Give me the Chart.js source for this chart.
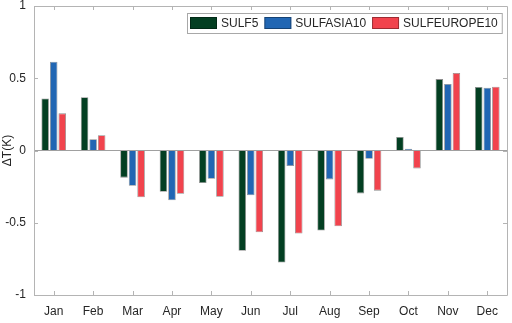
<!DOCTYPE html>
<html><head><meta charset="utf-8">
<script src="https://cdn.jsdelivr.net/npm/chart.js@4/dist/chart.umd.min.js"></script>
<style>html,body{margin:0;padding:0;background:#fff}#wrap{width:512px;height:323px}</style>
</head><body><div id="wrap"><canvas id="c" width="512" height="323"></canvas></div>
<script>
const months = ['Jan','Feb','Mar','Apr','May','Jun','Jul','Aug','Sep','Oct','Nov','Dec'];
const sulf5 = [0.36, 0.368, -0.188, -0.285, -0.225, -0.694, -0.775, -0.554, -0.297, 0.094, 0.494, 0.439];
const sulfAsia10 = [0.614, 0.078, -0.244, -0.345, -0.195, -0.31, -0.108, -0.2, -0.057, 0.012, 0.46, 0.434];
const sulfEurope10 = [0.257, 0.106, -0.324, -0.299, -0.32, -0.566, -0.575, -0.524, -0.278, -0.124, 0.536, 0.441];
const yTicks = [-1, -0.5, 0, 0.5, 1];

const FONT = '"Liberation Sans", Arial, Helvetica, sans-serif';
const TXT = '#262626';
const AXC = '#b4b4b4';

const boxTicks = {
  id: 'boxTicks',
  afterDatasetsDraw(chart) {
    const {ctx, chartArea: a, scales: {x, y}} = chart;
    ctx.save();
    ctx.strokeStyle = AXC;
    ctx.lineWidth = 1;
    ctx.beginPath();
    ctx.rect(Math.round(a.left) + 0.5, Math.round(a.top) + 0.5, Math.round(a.right - a.left), Math.round(a.bottom - a.top));
    ctx.stroke();
    const L = 4;
    ctx.beginPath();
    y.ticks.forEach((t, i) => {
      const py = Math.round(y.getPixelForTick(i)) + 0.5;
      ctx.moveTo(a.left, py); ctx.lineTo(a.left + L, py);
      ctx.moveTo(a.right, py); ctx.lineTo(a.right - L, py);
    });
    x.ticks.forEach((t, i) => {
      const px = Math.round(x.getPixelForTick(i)) + 0.5;
      ctx.moveTo(px, a.top); ctx.lineTo(px, a.top + L);
      ctx.moveTo(px, a.bottom); ctx.lineTo(px, a.bottom - L);
    });
    ctx.stroke();
    // legend
    ctx.font = '12px ' + FONT;
    ctx.textBaseline = 'middle';
    const sw = 27, sh = 12, g = 4, sp = 6, padL = 3, padR = 4;
    const items = chart.data.datasets.map(d => ({label: d.label, color: d.backgroundColor, w: ctx.measureText(d.label).width}));
    let total = padL + padR;
    items.forEach((it, i) => { total += sw + g + it.w + (i < items.length - 1 ? sp : 0); });
    const bx = Math.round(a.right - 5 - total), by = 13, bh = 20;
    ctx.fillStyle = '#fff';
    ctx.fillRect(bx, by, total, bh);
    ctx.strokeStyle = '#a8a8a8';
    ctx.strokeRect(bx + 0.5, by + 0.5, total, bh);
    let cx = bx + padL;
    items.forEach(it => {
      ctx.fillStyle = it.color;
      ctx.fillRect(cx, by + 4, sw, sh);
      ctx.strokeStyle = 'rgba(0,0,0,0.35)';
      ctx.strokeRect(cx + 0.5, by + 4.5, sw - 1, sh - 1);
      cx += sw + g;
      ctx.fillStyle = TXT;
      ctx.textAlign = 'left';
      ctx.fillText(it.label, cx, by + bh / 2 + 1);
      cx += it.w + sp;
    });
    ctx.restore();
  }
};

const mk = (label, data, color) => ({
  label, data, backgroundColor: color,
  borderColor: 'rgba(0,0,0,0.45)', borderWidth: 0.8,
  barPercentage: 0.88, categoryPercentage: 0.65
});

new Chart(document.getElementById('c'), {
  type: 'bar',
  data: {
    labels: months,
    datasets: [
      mk('SULF5', sulf5, '#033f22'),
      mk('SULFASIA10', sulfAsia10, '#2166b3'),
      mk('SULFEUROPE10', sulfEurope10, '#f1434d')
    ]
  },
  options: {
    responsive: false, animation: false, devicePixelRatio: 1,
    layout: {padding: {top: 6, right: 5, left: 0, bottom: 0}},
    plugins: {legend: {display: false}, tooltip: {enabled: false}},
    scales: {
      x: {
        grid: {display: false, drawTicks: false},
        border: {display: false},
        ticks: {color: TXT, font: {family: FONT, size: 12}, padding: 9, maxRotation: 0, autoSkip: false},
        afterFit(s) { s.height = 28; s.paddingLeft = 0; s.paddingRight = 0; }
      },
      y: {
        min: -1, max: 1,
        afterBuildTicks(s) { s.ticks = yTicks.map(v => ({value: v})); },
        grid: {
          drawTicks: false,
          color: c => (c.tick && c.tick.value === 0) ? '#a0a0a0' : 'rgba(0,0,0,0)',
          lineWidth: 1
        },
        border: {display: false},
        ticks: {color: TXT, font: {family: FONT, size: 12}, padding: 8, callback: v => String(v)},
        title: {display: true, text: 'ΔT(K)', color: TXT, font: {family: FONT, size: 12}, padding: {top: 0, bottom: 0}},
        afterFit(s) { s.width = 34; s.paddingTop = 0; s.paddingBottom = 0; }
      }
    }
  },
  plugins: [boxTicks]
});
</script></body></html>
